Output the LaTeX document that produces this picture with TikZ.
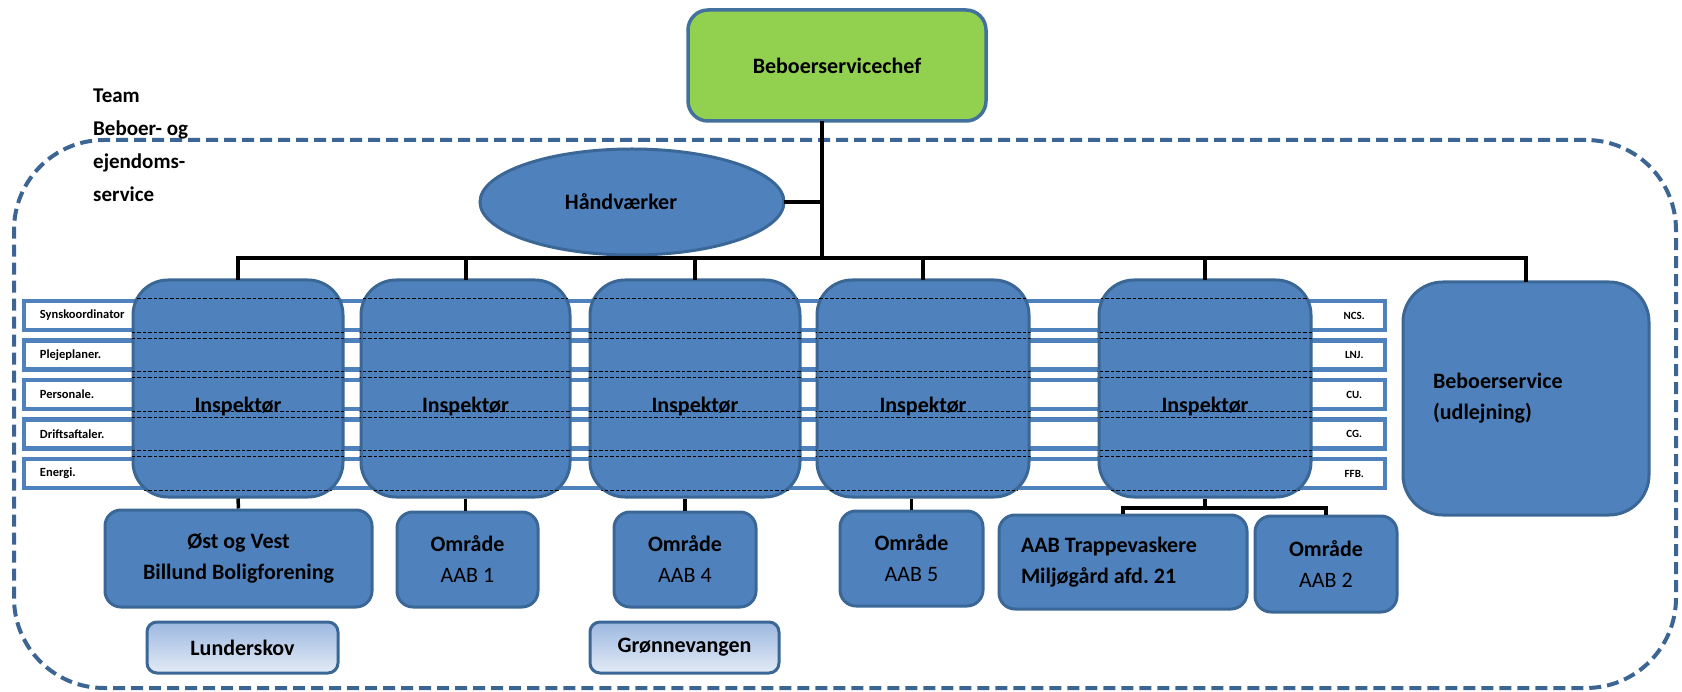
\documentclass[tikz,border=0pt]{standalone}
\usepackage{fontspec}
\setmainfont{Carlito}
\usetikzlibrary{shapes.geometric}
\definecolor{boxblue}{HTML}{4F81BD}
\definecolor{boxedge}{HTML}{3A6796}
\definecolor{chefgreen}{HTML}{92D050}
\definecolor{chefedge}{HTML}{41719C}
\definecolor{teamedge}{HTML}{3D6594}
\definecolor{stripblue}{HTML}{4F81BD}
\definecolor{lighttop}{HTML}{9CB8E0}
\definecolor{lightbot}{HTML}{E3EBF6}
\newcommand{\mainsz}{\fontsize{22}{31}\selectfont}
\newcommand{\stripsz}{\fontsize{12.5}{14}\selectfont}
\newcommand{\initsz}{\fontsize{11}{13}\selectfont}
\begin{document}
\begin{tikzpicture}[x=1pt,y=-1pt,
  bx/.style={draw=boxedge, fill=boxblue, line width=3pt, rounded corners=16pt,
    inner sep=0pt, align=center, text=black, font=\mainsz\bfseries},
  inspbox/.style={bx, rounded corners=35pt, minimum width=#1, minimum height=217pt},
  lbl/.style={font=\mainsz\bfseries, text=black, yshift=-18.5pt, inner sep=0pt},
  lightbx/.style={bx, top color=lighttop, bottom color=lightbot, rounded corners=10pt},
  teambox/.style={draw=teamedge, line width=4pt, dash pattern=on 12pt off 6pt,
    rounded corners=90pt, minimum width=1662pt, minimum height=548pt, inner sep=0pt},
  strip/.style={draw=stripblue, fill=white, line width=4.5pt, minimum width=1361pt,
    minimum height=29pt, inner sep=0pt},
  stripl/.style={font=\stripsz\bfseries, text=black, inner sep=0pt},
  stripr/.style={font=\initsz\bfseries, text=black, inner sep=0pt},
  dl/.style={draw=black, line width=1pt, dash pattern=on 3.5pt off 2pt},
  conn/.style={draw=black, line width=4pt, line cap=rect},
  conn2/.style={draw=black, line width=3.5pt}
]
\useasboundingbox (0,0) rectangle (1682,692);

% team frame
\node[teambox] (team) at (845,414) {};
\node[anchor=west, align=left, inner sep=0pt, text=black,
  font=\fontsize{21}{33}\selectfont\bfseries] (teamlbl) at (93,145)
  {Team\\Beboer- og\\ejendoms-\\service};

% strips
\foreach \i/\c/\l/\r in {1/315.5/Synskoordinator/NCS., 2/355/Plejeplaner./LNJ.,
    3/394.5/Personale./CU., 4/434/Driftsaftaler./CG., 5/473.5/Energi./FFB.} {
  \node[strip] (s\i) at (704.5,\c) {};
  \node[stripl, anchor=west] (sl\i) at ([xshift=18pt]s\i.west) {\l};
  \node[stripr] (sr\i) at ([xshift=-33pt]s\i.east) {\r};
}

% top
\node[bx, fill=chefgreen, draw=chefedge, line width=3.5pt, rounded corners=20pt,
  minimum width=298pt, minimum height=111pt] (chef) at (837,65.5) {Beboerservicechef};
\node[ellipse, draw=boxedge, fill=boxblue, line width=3pt, minimum width=304pt,
  minimum height=106pt, inner sep=0pt, text=black, font=\mainsz\bfseries] (hv) at (632,202)
  {Håndværker\hspace*{22pt}};

% inspectors
\foreach \nm/\x/\w in {i1/238/210, i2/465.5/209, i3/695/210, i4/923/212, i5/1205/212} {
  \node[inspbox=\w pt, label={[lbl]center:Inspektør}] (\nm) at (\x,388.5) {};
}
\foreach \nm in {i1,i2,i3,i4,i5} {
  \begin{scope}
    \clip[rounded corners=35pt] (\nm.south west) rectangle (\nm.north east);
    \foreach \i in {1,2,3,4,5}
      \draw[dl] (s\i.north west) -- (s\i.north east) (s\i.south west) -- (s\i.south east);
  \end{scope}
}

\node[bx, rounded corners=40pt, minimum width=246pt, minimum height=233pt,
  text width=186pt, align=flush left] (bs) at (1526,398.5) {Beboerservice\\(udlejning)};

% bottom boxes
\node[bx, minimum width=267pt, minimum height=97pt] (ov) at (238.5,558.5) {Øst og Vest\\Billund Boligforening};
\node[bx, minimum width=141pt, minimum height=95pt] (a1) at (467.5,559.5) {Område\\{\mdseries AAB 1}};
\node[bx, minimum width=142pt, minimum height=95pt] (a4) at (685,559.5) {Område\\{\mdseries AAB 4}};
\node[bx, minimum width=143pt, minimum height=95pt] (a5) at (911.5,558.5) {Område\\{\mdseries AAB 5}};
\node[bx, minimum width=248pt, minimum height=94pt, text width=204pt, align=flush left] (tr) at (1123,562)
  {AAB Trappevaskere\\Miljøgård afd.\ 21};
\node[bx, minimum width=142pt, minimum height=96pt] (a2) at (1326,564) {Område\\{\mdseries AAB 2}};
\node[lightbx, minimum width=191pt, minimum height=51pt] (lu) at (242.5,647.5) {Lunderskov};
\node[lightbx, minimum width=189pt, minimum height=51pt] (gr) at (684.5,647.5) {Grønnevangen};

% connectors
\coordinate (j) at (822,258);
\draw[conn] (chef.south -| j) -- (j);
\draw[conn] (hv.east) -- (hv.east -| j);
\draw[conn] (i1.north |- j) -- (bs.north |- j);
\foreach \nm in {i1,i2,i3,i4,i5,bs}
  \draw[conn] (\nm.north) -- (\nm.north |- j);

\draw[conn2] (i1.south) -- (ov.north);
\draw[conn2] (i2.south) -- (i2.south |- a1.north);
\draw[conn2] (a4.north |- i3.south) -- (a4.north);
\draw[conn2] (a5.north |- i4.south) -- (a5.north);
\coordinate (k) at (1205,508);
\draw[conn2] (i5.south) -- (k);
\draw[conn2] (tr.north) |- (k) -| (a2.north);
\end{tikzpicture}
\end{document}
